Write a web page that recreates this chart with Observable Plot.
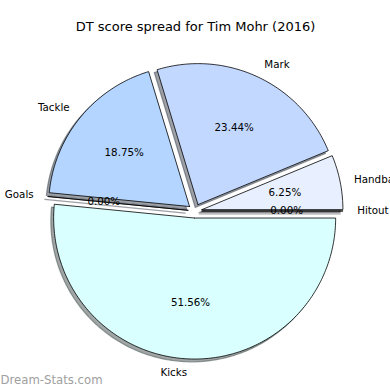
<!DOCTYPE html>
<html>
<head>
<meta charset="utf-8">
<script src="https://cdn.jsdelivr.net/npm/d3@7"></script>
<script src="https://cdn.jsdelivr.net/npm/@observablehq/plot@0.6"></script>
<style>
  html, body { margin: 0; padding: 0; background: #fff; }
  svg { font-family: "DejaVu Sans", sans-serif; }
</style>
</head>
<body>
<div id="chart"></div>
<script>
const title = "DT score spread for Tim Mohr (2016)";
const categories = ["Hitout", "Handball", "Mark", "Tackle", "Goals", "Kicks"];
const values = [0, 4, 15, 12, 0, 33];
const colors = ["#f0f4ff", "#e8f0ff", "#c3d8ff", "#b3d5ff", "#c8ddff", "#d9ffff"];
const explode = [0.05, 0.05, 0.05, 0.05, 0.05, 0.05];
const watermark = "Dream-Stats.com";

const total = d3.sum(values);
const slices = [];
let start = 0;
categories.forEach((name, i) => {
  const span = values[i] / total * 2 * Math.PI;
  const t1 = start, t2 = start + span, tm = (t1 + t2) / 2;
  const cx = explode[i] * Math.cos(tm), cy = explode[i] * Math.sin(tm);
  const pts = [{x: cx, y: cy}];
  const n = Math.max(2, Math.ceil(span / (Math.PI / 180)) + 1);
  for (let k = 0; k <= n; k++) {
    const t = t1 + (t2 - t1) * k / n;
    pts.push({x: cx + Math.cos(t), y: cy + Math.sin(t)});
  }
  pts.push({x: cx, y: cy});
  slices.push({
    name, color: colors[i], pts,
    lx: cx + 1.1 * Math.cos(tm), ly: cy + 1.1 * Math.sin(tm),
    px: cx + 0.6 * Math.cos(tm), py: cy + 0.6 * Math.sin(tm),
    pct: (values[i] / total * 100).toFixed(2) + "%"
  });
  start = t2;
});

const marks = [];
// shadows
slices.forEach(s => {
  const shade = d3.rgb(s.color);
  const c = d3.rgb(shade.r * 0.3, shade.g * 0.3, shade.b * 0.3).formatHex();
  marks.push(Plot.line(s.pts.map(p => ({x: p.x - 0.02, y: p.y - 0.02})), {
    x: "x", y: "y", fill: c, fillOpacity: 0.5, stroke: c, strokeOpacity: 0.5, strokeWidth: 1.2
  }));
});
// wedges
slices.forEach(s => {
  marks.push(Plot.line(s.pts, {
    x: "x", y: "y", fill: s.color, stroke: "black", strokeWidth: 0.8, strokeLinejoin: "miter"
  }));
});
const fontSize = 10.3;
marks.push(Plot.text(slices.filter(s => s.lx > 0), {
  x: "lx", y: "ly", text: "name", textAnchor: "start", fontSize, fill: "black", fontFamily: "DejaVu Sans"
}));
marks.push(Plot.text(slices.filter(s => s.lx <= 0), {
  x: "lx", y: "ly", text: "name", textAnchor: "end", fontSize, fill: "black", fontFamily: "DejaVu Sans"
}));
marks.push(Plot.text(slices, {
  x: "px", y: "py", text: "pct", textAnchor: "middle", fontSize, fill: "black", fontFamily: "DejaVu Sans"
}));
marks.push(Plot.text([title], {
  frameAnchor: "top", text: d => d, dy: 26, lineAnchor: "middle", fontSize: 13, fill: "black", fontFamily: "DejaVu Sans"
}));
marks.push(Plot.text([watermark], {
  frameAnchor: "bottom-left", text: d => d, dy: -10, dx: 0, lineAnchor: "middle", textAnchor: "start",
  fontSize: 11.7, fill: "#a0a0a0", fontFamily: "DejaVu Sans"
}));

const R = 141, CX = 194.5, CY = 210.5, W = 390, H = 390;
const chart = Plot.plot({
  width: W, height: H, margin: 0,
  x: {domain: [-CX / R, (W - CX) / R], axis: null},
  y: {domain: [-(H - CY) / R, CY / R], axis: null},
  style: {background: "white", overflow: "hidden"},
  marks
});
document.getElementById("chart").appendChild(chart);
</script>
</body>
</html>
